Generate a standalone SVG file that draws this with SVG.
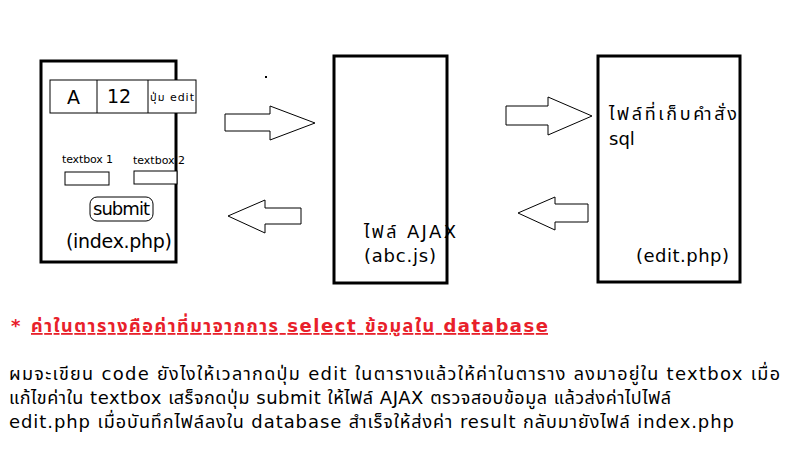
<svg xmlns="http://www.w3.org/2000/svg" width="799" height="466" viewBox="0 0 799 466">
<style>
text{font-family:"DejaVu Sans","Noto Sans Thai",sans-serif;fill:#000}
.box{fill:#fff;stroke:#000;stroke-width:3}
.thin{fill:#fff;stroke:#000;stroke-width:1}
.arr{fill:#fff;stroke:#000;stroke-width:1}
.big{font-size:18px}
.sm{font-size:11px}
</style>
<rect width="799" height="466" fill="#fff"/>
<g id="index">
<rect class="box" x="41" y="61" width="135" height="201"/>
<rect class="thin" x="50" y="80" width="146" height="33"/>
<line x1="97" y1="80" x2="97" y2="113" stroke="#000"/>
<line x1="148" y1="80" x2="148" y2="113" stroke="#000"/>
<text x="67" y="104" font-size="19">A</text>
<text x="107" y="103" font-size="19">12</text>
<text x="150" y="101" font-size="11" textLength="44">ปุ่ม edit</text>
<text x="62" y="163" class="sm" textLength="51">textbox 1</text>
<text x="133" y="164" class="sm" textLength="52">textbox 2</text>
<rect class="thin" x="65" y="172" width="44" height="13"/>
<rect class="thin" x="134" y="171" width="43" height="13"/>
<rect class="thin" x="90" y="197" width="63" height="24" rx="7"/>
<text x="93" y="215" class="big" textLength="57">submit</text>
<text x="66" y="248" font-size="19" textLength="106">(index.php)</text>
</g>
<g id="ajax">
<rect class="box" x="334" y="56" width="113" height="227"/>
<text x="364" y="238" class="big" textLength="92">ไฟล์ AJAX</text>
<text x="364" y="262" class="big" textLength="72">(abc.js)</text>
</g>
<g id="edit">
<rect class="box" x="598" y="56" width="142" height="226"/>
<text x="609" y="120" class="big" textLength="128">ไฟล์ที่เก็บคำสั่ง</text>
<text x="609" y="145" class="big">sql</text>
<text x="636" y="262" class="big" textLength="93">(edit.php)</text>
</g>
<g id="connectors">
<polygon class="arr" points="225,114 270,114 270,106 315,123 270,140 270,131 225,131"/>
<polygon class="arr" points="301,208 265,208 265,200 228,216 265,233 265,224 301,224"/>
<polygon class="arr" points="506,106 548,106 548,97 592,116 548,135 548,125 506,125"/>
<polygon class="arr" points="588,204 555,204 555,197 518,213 555,230 555,222 588,222"/>
</g>
<rect x="265" y="76" width="2" height="2" fill="#000"/>
<text x="11" y="332" font-size="18" font-weight="bold" style="fill:#e8202a">*</text>
<text x="31" y="332" font-size="18" font-weight="bold" text-decoration="underline" textLength="517" style="fill:#e8202a">ค่าในตารางคือค่าที่มาจากการ select ข้อมูลใน database</text>
<text x="9" y="380" class="big" textLength="771">ผมจะเขียน code ยังไงให้เวลากดปุ่ม edit ในตารางแล้วให้ค่าในตาราง ลงมาอยู่ใน textbox เมื่อ</text>
<text x="9" y="404" class="big" textLength="662">แก้ไขค่าใน textbox เสร็จกดปุ่ม submit ให้ไฟล์ AJAX ตรวจสอบข้อมูล แล้วส่งค่าไปไฟล์</text>
<text x="9" y="428" class="big" textLength="725">edit.php เมื่อบันทึกไฟล์ลงใน database สำเร็จให้ส่งค่า result กลับมายังไฟล์ index.php</text>
</svg>
